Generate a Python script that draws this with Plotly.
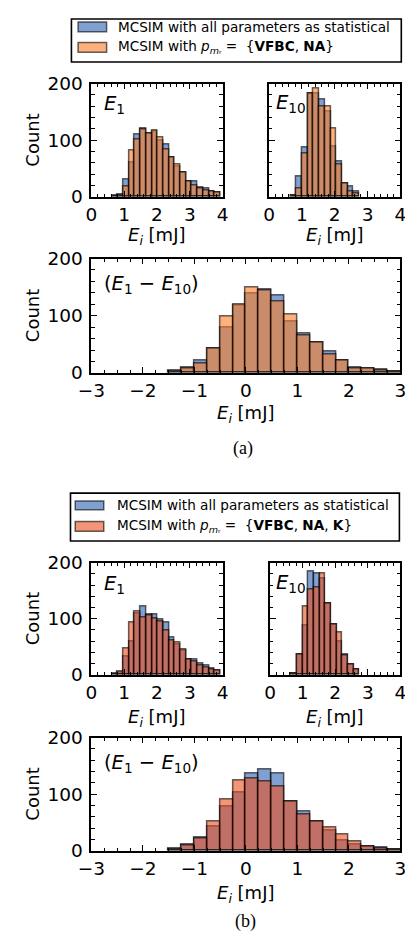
import plotly.graph_objects as go

# The page body has an 8px default margin: offset reference pixels by it.
PAGE_W, PAGE_H, BODY_MARGIN = 413, 945, 8
W, H = PAGE_W - BODY_MARGIN, PAGE_H - BODY_MARGIN


def fx(p):
    return min(1.0, max(0.0, (p - BODY_MARGIN) / W))


def fy(p):
    return min(1.0, max(0.0, 1 - (p - BODY_MARGIN) / H))


# ---------------- data ----------------
E1_BIN_START = 0.628
E10_BIN_START = 0.66
SMALL_BIN_WIDTH = 0.174
DIFF_BIN_START = -1.5
DIFF_BIN_WIDTH = 0.25

E1_A_ALL = [2, 4, 30, 60, 110, 120, 111, 115, 100, 92, 69, 53, 43, 27, 27, 17, 14, 10, 8]
E1_A_MR = [1, 3, 18, 82, 102, 119, 111, 117, 104, 84, 69, 58, 43, 27, 20, 14, 12, 9, 7]
E10_A_ALL = [3, 36, 88, 183, 183, 171, 150, 89, 62, 24, 19, 10]
E10_A_MR = [2, 14, 77, 183, 191, 160, 160, 121, 58, 24, 10, 6]
DIFF_A_ALL = [4, 10, 22, 42, 79, 118, 138, 145, 136, 89, 69, 53, 37, 22, 9, 7, 6, 3]
DIFF_A_MR = [2, 8, 16, 42, 99, 120, 150, 144, 124, 102, 66, 53, 33, 22, 8, 7, 5, 3]

E1_B_ALL = [2, 4, 32, 60, 109, 121, 108, 108, 98, 93, 66, 55, 43, 28, 28, 20, 16, 12, 8]
E1_B_MR = [1, 6, 47, 93, 112, 103, 106, 100, 95, 79, 62, 58, 45, 28, 24, 16, 14, 10, 7]
E10_B_ALL = [3, 36, 88, 184, 181, 172, 127, 90, 60, 36, 19, 10]
E10_B_MR = [2, 36, 121, 152, 156, 180, 127, 90, 76, 34, 19, 10]
DIFF_B_ALL = [4, 11, 24, 43, 78, 103, 137, 143, 136, 88, 70, 52, 36, 19, 11, 7, 6, 3]
DIFF_B_MR = [2, 9, 22, 52, 91, 124, 128, 122, 113, 87, 65, 52, 41, 29, 16, 7, 5, 3]

LEGEND_ALL = "MCSIM with all parameters as statistical"
LEGEND_A = "MCSIM with <i>p</i><sub><i>m</i>ᵣ</sub> =  {<b>VFBC</b>, <b>NA</b>}"
LEGEND_B = "MCSIM with <i>p</i><sub><i>m</i>ᵣ</sub> =  {<b>VFBC</b>, <b>NA</b>, <b>K</b>}"

# ---------------- style ----------------
ALPHA = 0.6
BLUE = f"rgba(42,97,178,{ALPHA})"
ORANGE = f"rgba(252,127,38,{ALPHA})"
RED = f"rgba(235,80,30,{ALPHA})"
EDGE = f"rgba(0,0,0,{ALPHA})"
FONT = "DejaVu Sans"

fig = go.Figure()

# panel definitions: axis id, pixel box (x0,x1,y0,y1), bins, data, color, x-range
panels = [
    (1, (81, 219, 74, 190), E1_BIN_START, SMALL_BIN_WIDTH, E1_A_ALL, E1_A_MR, ORANGE, [0, 4], 0.2, True),
    (2, (268, 406, 74, 190), E10_BIN_START, SMALL_BIN_WIDTH, E10_A_ALL, E10_A_MR, ORANGE, [0, 4], 0.2, False),
    (3, (81, 406, 253, 370), DIFF_BIN_START, DIFF_BIN_WIDTH, DIFF_A_ALL, DIFF_A_MR, ORANGE, [-3, 3], 0.25, True),
    (4, (81, 219, 564, 679), E1_BIN_START, SMALL_BIN_WIDTH, E1_B_ALL, E1_B_MR, RED, [0, 4], 0.2, True),
    (5, (269, 406, 564, 679), E10_BIN_START, SMALL_BIN_WIDTH, E10_B_ALL, E10_B_MR, RED, [0, 4], 0.2, False),
    (6, (81, 406, 743, 859), DIFF_BIN_START, DIFF_BIN_WIDTH, DIFF_B_ALL, DIFF_B_MR, RED, [-3, 3], 0.25, True),
]

axis_common = dict(
    showline=True, linecolor="black", linewidth=1.6, mirror="allticks",
    ticks="inside", ticklen=6, tickwidth=1.2, tickcolor="black",
    showgrid=False, zeroline=False,
    tickfont=dict(family=FONT, size=18.5, color="black"),
)

annotations = []
shapes = []


def label(x, y, text, size, family=FONT, xanchor="center", yanchor="middle", angle=0):
    annotations.append(dict(
        x=fx(x), y=fy(y), xref="paper", yref="paper", xanchor=xanchor, yanchor=yanchor,
        text=text, textangle=angle, showarrow=False,
        font=dict(family=family, size=size, color="black"),
    ))


for idx, (x0, x1, y0, y1), start, width, all_counts, mr_counts, color, xr, minor_dt, show_y in panels:
    sfx = "" if idx == 1 else str(idx)
    n = len(all_counts)
    centers = [start + width * (i + 0.5) for i in range(n)]
    for counts, col in ((all_counts, BLUE), (mr_counts, color)):
        fig.add_trace(go.Bar(
            x=centers, y=counts, width=[width] * n,
            marker=dict(color=col, line=dict(color=EDGE, width=1.5)),
            xaxis="x" + sfx, yaxis="y" + sfx, showlegend=False,
        ))
    fig.layout["xaxis" + sfx] = dict(
        axis_common, domain=[fx(x0), fx(x1)], range=xr, dtick=1, tick0=0,
        anchor="y" + sfx,
        minor=dict(ticks="inside", ticklen=3.5, tickwidth=1, tickcolor="black", dtick=minor_dt, tick0=0),
    )
    fig.layout["yaxis" + sfx] = dict(
        axis_common, domain=[fy(y1), fy(y0)], range=[0, 200], dtick=100, tick0=0,
        anchor="x" + sfx, showticklabels=show_y, ticklabelstandoff=3,
        minor=dict(ticks="inside", ticklen=3.5, tickwidth=1, tickcolor="black", dtick=20, tick0=0),
    )
    if show_y:
        label(19, (y0 + y1) / 2, "Count", 18, angle=-90)

# x-axis titles
for cx, cy in ((150, 230), (337, 230), (243, 412), (150, 723), (337, 723), (243, 903)):
    label(cx, cy, "<i>E</i><sub><i>i</i></sub> [mJ]", 18)

# in-panel labels
for lx, ly, txt in (
    (92, 95, "<i>E</i><sub>1</sub>"), (273, 94, "<i>E</i><sub>10</sub>"),
    (92, 280, "(<i>E</i><sub>1</sub> − <i>E</i><sub>10</sub>)"),
    (92, 586, "<i>E</i><sub>1</sub>"), (273, 585, "<i>E</i><sub>10</sub>"),
    (92, 770, "(<i>E</i><sub>1</sub> − <i>E</i><sub>10</sub>)"),
):
    label(lx, ly, txt, 19.5, xanchor="left")

# captions
label(240, 447, "(a)", 18, family="Liberation Serif")
label(243, 931, "(b)", 18, family="Liberation Serif")

# legends
for (bx0, bx1, by0, by1), (sx0, sx1), sy, ty, tx, col, lab in (
    ((60, 407, 3, 52), (67, 97), ((11, 21), (32, 42)), (16, 37), 107, ORANGE, LEGEND_A),
    ((59, 405, 493, 542), (64, 94), ((501, 510), (522, 532)), (505.5, 527), 106, RED, LEGEND_B),
):
    shapes.append(dict(type="rect", xref="paper", yref="paper",
                       x0=fx(bx0), x1=fx(bx1), y0=fy(by0), y1=fy(by1),
                       line=dict(color="black", width=1.6), fillcolor="white", layer="below"))
    for (a, b), c in zip(sy, (BLUE, col)):
        shapes.append(dict(type="rect", xref="paper", yref="paper",
                           x0=fx(sx0), x1=fx(sx1), y0=fy(a), y1=fy(b),
                           line=dict(color=EDGE, width=1.5), fillcolor=c))
    for t, txt in zip(ty, (LEGEND_ALL, lab)):
        label(tx, t, txt, 13.6, xanchor="left")

fig.update_layout(
    width=W, height=H, autosize=False,
    margin=dict(l=0, r=0, t=0, b=0),
    paper_bgcolor="white", plot_bgcolor="white",
    barmode="overlay", bargap=0,
    annotations=annotations, shapes=shapes,
    showlegend=False,
)

fig.write_html("out.html")
